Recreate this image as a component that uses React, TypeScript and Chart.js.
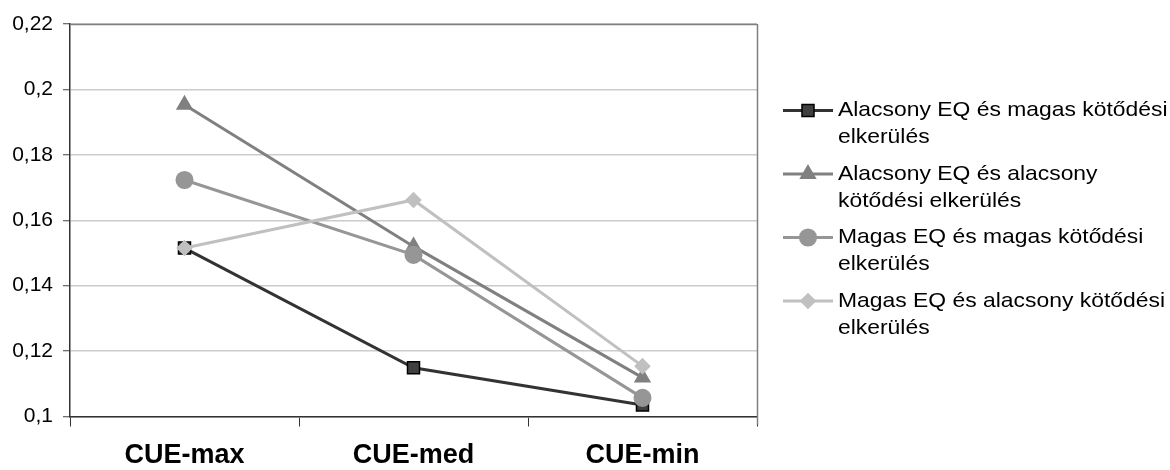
import React, { useEffect, useRef } from 'react';
import { Chart, registerables } from 'chart.js';

Chart.register(...registerables);

const categories = ['CUE-max', 'CUE-med', 'CUE-min'];

const seriesNames: string[][] = [
  ['Alacsony EQ és magas kötődési', 'elkerülés'],
  ['Alacsony EQ és alacsony', 'kötődési elkerülés'],
  ['Magas EQ és magas kötődési', 'elkerülés'],
  ['Magas EQ és alacsony kötődési', 'elkerülés'],
];

const lowEqHighAvoid = [0.1515, 0.1149, 0.1035];
const lowEqLowAvoid = [0.1953, 0.152, 0.1119];
const highEqHighAvoid = [0.1723, 0.1494, 0.1057];
const highEqLowAvoid = [0.1515, 0.1662, 0.1154];

const yMin = 0.1;
const yMax = 0.22;
const yStep = 0.02;

const lineColors = ['#333333', '#808080', '#969696', '#c0c0c0'];
const markerFills = ['#404040', '#808080', '#969696', '#c0c0c0'];
const markerBorders = ['#000000', '#808080', '#969696', '#c0c0c0'];
const markerStyles = ['rect', 'triangle', 'circle', 'rectRot'];
const markerRadii = [8.5, 8.5, 8.3, 7.2];

const FONT = '"Liberation Sans", Arial, sans-serif';

function drawMarker(ctx: CanvasRenderingContext2D, style: string, r: number, x: number, y: number) {
  ctx.beginPath();
  if (style === 'rect') {
    const s = Math.SQRT1_2 * r;
    ctx.rect(x - s, y - s, 2 * s, 2 * s);
  } else if (style === 'triangle') {
    let a = 0;
    for (let k = 0; k < 3; k++) {
      const px = x + Math.sin(a) * r;
      const py = y - Math.cos(a) * r;
      if (k === 0) ctx.moveTo(px, py);
      else ctx.lineTo(px, py);
      a += (2 * Math.PI) / 3;
    }
    ctx.closePath();
  } else if (style === 'circle') {
    ctx.arc(x, y, r, 0, Math.PI * 2);
  } else {
    ctx.moveTo(x - r, y);
    ctx.lineTo(x, y - r);
    ctx.lineTo(x + r, y);
    ctx.lineTo(x, y + r);
    ctx.closePath();
  }
  ctx.fill();
  ctx.stroke();
}

const framePlugin = {
  id: 'frameAndLegend',
  afterDatasetsDraw(chart: any) {
    const { ctx, chartArea } = chart;
    ctx.save();
    ctx.strokeStyle = '#808080';
    ctx.lineWidth = 1.5;
    ctx.beginPath();
    ctx.moveTo(chartArea.left, chartArea.top + 0.5);
    ctx.lineTo(chartArea.right, chartArea.top + 0.5);
    ctx.moveTo(chartArea.right + 0.5, chartArea.top);
    ctx.lineTo(chartArea.right + 0.5, chartArea.bottom + 8);
    ctx.stroke();
    ctx.restore();
  },
  afterDraw(chart: any) {
    const { ctx } = chart;
    ctx.save();
    const lineX0 = 783;
    const lineX1 = 833;
    const textX = 838;
    const startY = 110.5;
    const gap = 63.5;
    const lineH = 27;
    seriesNames.forEach((lines, i) => {
      const y = startY + i * gap;
      ctx.strokeStyle = lineColors[i];
      ctx.lineWidth = 3;
      ctx.beginPath();
      ctx.moveTo(lineX0, y);
      ctx.lineTo(lineX1, y);
      ctx.stroke();
      ctx.fillStyle = markerFills[i];
      ctx.strokeStyle = markerBorders[i];
      ctx.lineWidth = 1.5;
      drawMarker(ctx, markerStyles[i], markerRadii[i], (lineX0 + lineX1) / 2, y);
      ctx.fillStyle = '#000000';
      ctx.font = `21px ${FONT}`;
      ctx.textBaseline = 'middle';
      ctx.textAlign = 'left';
      lines.forEach((t, j) => {
        ctx.save();
        ctx.translate(textX, y + j * lineH);
        ctx.scale(1.09, 1);
        ctx.fillText(t, 0, 0);
        ctx.restore();
      });
    });
    ctx.restore();
  },
};

export default function App() {
  const ref = useRef<HTMLCanvasElement | null>(null);

  useEffect(() => {
    document.body.style.margin = '0';
    const canvas = ref.current;
    if (!canvas) return;
    const seriesData = [lowEqHighAvoid, lowEqLowAvoid, highEqHighAvoid, highEqLowAvoid];
    const datasets = seriesData.map((d, i) => ({
      label: seriesNames[i].join(' '),
      data: d,
      borderColor: lineColors[i],
      backgroundColor: markerFills[i],
      borderWidth: 3,
      pointStyle: markerStyles[i] as any,
      pointRadius: markerRadii[i],
      pointHoverRadius: markerRadii[i],
      pointBackgroundColor: markerFills[i],
      pointBorderColor: markerBorders[i],
      pointBorderWidth: 1.5,
      tension: 0,
      fill: false,
      order: 3 - i,
    }));

    const chart = new Chart(canvas, {
      type: 'line',
      data: { labels: categories, datasets },
      plugins: [framePlugin],
      options: {
        animation: false,
        responsive: false,
        maintainAspectRatio: false,
        devicePixelRatio: 1,
        layout: { padding: { top: 24, right: 413, left: 0, bottom: 0 } },
        plugins: {
          legend: { display: false },
          tooltip: { enabled: false },
        },
        scales: {
          x: {
            type: 'category',
            offset: true,
            grid: {
              display: true,
              drawOnChartArea: false,
              drawTicks: true,
              offset: true,
              tickLength: 10,
              tickColor: '#333333',
              tickWidth: 1,
            },
            border: { display: true, color: '#333333', width: 1.5 },
            ticks: {
              color: '#000000',
              font: { family: FONT, size: 27, weight: 'bold' },
              padding: 13,
              maxRotation: 0,
              autoSkip: false,
            },
            afterFit: (s: any) => {
              s.height = 53.5;
            },
          },
          y: {
            min: yMin,
            max: yMax,
            ticks: {
              stepSize: yStep,
              color: '#000000',
              font: { family: FONT, size: 21 },
              padding: 10,
              callback: (v: any) => String(Number(Number(v).toFixed(2))).replace('.', ','),
            },
            grid: {
              color: '#cccccc',
              lineWidth: 1.5,
              tickColor: '#404040',
              tickLength: 7,
              tickWidth: 1,
            },
            border: { display: true, color: '#333333', width: 1.5 },
            afterFit: (s: any) => {
              s.width = 70;
            },
          },
        },
      },
    });
    return () => chart.destroy();
  }, []);

  return (
    <div style={{ width: 1170, height: 470, background: '#ffffff' }}>
      <canvas ref={ref} width={1170} height={470} style={{ display: 'block', width: 1170, height: 470 }} />
    </div>
  );
}
